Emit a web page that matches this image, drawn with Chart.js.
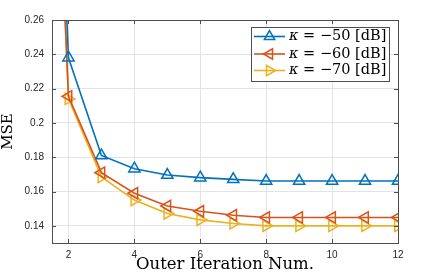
<!DOCTYPE html>
<html>
<head>
<meta charset="utf-8">
<script src="https://cdn.jsdelivr.net/npm/chart.js@4.4.0/dist/chart.umd.min.js"></script>
<style>
  html, body { margin: 0; padding: 0; background: #fff; }
</style>
</head>
<body>
<canvas id="mseChart" width="440" height="274"></canvas>
<script>
// values
var iterations = [1, 2, 3, 4, 5, 6, 7, 8, 9, 10, 11, 12];
var mse50 = [0.69, 0.238, 0.181, 0.1733, 0.1696, 0.1681, 0.1671, 0.1661, 0.1661, 0.1661, 0.1661, 0.1661];
var mse60 = [0.66, 0.2155, 0.171, 0.159, 0.1516, 0.1485, 0.1462, 0.1449, 0.1449, 0.1449, 0.1449, 0.1449];
var mse70 = [0.66, 0.214, 0.1685, 0.155, 0.1472, 0.1435, 0.1414, 0.140, 0.140, 0.140, 0.140, 0.140];
var seriesNames = ['\u221250 [dB]', '\u221260 [dB]', '\u221270 [dB]'];
var xTicks = [2, 4, 6, 8, 10, 12];
var yTicks = [0.14, 0.16, 0.18, 0.2, 0.22, 0.24, 0.26];
var yTickLabels = ['0.14', '0.16', '0.18', '0.2', '0.22', '0.24', '0.26'];

var colors = ['#0072BD', '#D95319', '#EDB120'];
var rotations = [0, -90, 90];

function pts(vals) {
	var out = [];
	for (var i in iterations) {
		out.push({x: iterations[i], y: vals[i]});
	}
	return out;
}

var allSeries = [mse50, mse60, mse70];
var datasets = [];
for (var k = 0; k < allSeries.length; k++) {
	datasets.push({
		label: seriesNames[k],
		data: pts(allSeries[k]),
		borderColor: colors[k],
		backgroundColor: 'rgba(0,0,0,0)',
		borderWidth: 1.6,
		pointStyle: 'triangle',
		pointRotation: rotations[k],
		pointRadius: 6.5,
		pointBorderWidth: 1.5,
		pointBorderColor: colors[k],
		pointBackgroundColor: 'rgba(0,0,0,0)',
		tension: 0
	});
}

// axes box with inward ticks, and the legend drawn inside the plot
var boxPlugin = {
	id: 'boxPlugin',
	afterDraw: function(chart) {
		var ctx = chart.ctx;
		var a = chart.chartArea;
		var xs = chart.scales.x, ys = chart.scales.y;
		ctx.save();
		ctx.strokeStyle = '#4d4d4d';
		ctx.lineWidth = 1;
		ctx.strokeRect(a.left + 0.5, a.top + 0.5, a.right - a.left, a.bottom - a.top);
		ctx.beginPath();
		xTicks.forEach(function(v) {
			var px = Math.round(xs.getPixelForValue(v)) + 0.5;
			ctx.moveTo(px, a.bottom); ctx.lineTo(px, a.bottom - 4);
			ctx.moveTo(px, a.top); ctx.lineTo(px, a.top + 4);
		});
		yTicks.forEach(function(v) {
			var py = Math.round(ys.getPixelForValue(v)) + 0.5;
			ctx.moveTo(a.left, py); ctx.lineTo(a.left + 4, py);
			ctx.moveTo(a.right, py); ctx.lineTo(a.right - 4, py);
		});
		ctx.stroke();

		// legend
		var lx = 251, ly = 27, lw = 138, lh = 54;
		ctx.fillStyle = '#fff';
		ctx.fillRect(lx, ly, lw, lh);
		ctx.strokeStyle = '#4d4d4d';
		ctx.strokeRect(lx + 0.5, ly + 0.5, lw, lh);
		var rows = [36.5, 54, 70.5];
		for (var k = 0; k < datasets.length; k++) {
			var cy = rows[k];
			ctx.strokeStyle = colors[k];
			ctx.lineWidth = 1.6;
			ctx.beginPath();
			ctx.moveTo(254, cy); ctx.lineTo(285, cy);
			ctx.stroke();
			ctx.lineWidth = 1.5;
			ctx.fillStyle = 'rgba(0,0,0,0)';
			Chart.helpers.drawPoint(ctx, {pointStyle: 'triangle', rotation: rotations[k], radius: 6, borderWidth: 1.5}, 269.5, cy);
			ctx.fillStyle = '#000';
			ctx.textBaseline = 'middle';
			ctx.textAlign = 'left';
			ctx.font = 'italic 14.5px "DejaVu Serif"';
			ctx.fillText('\u03ba', 289, cy);
			var w = ctx.measureText('\u03ba').width;
			ctx.font = '14.5px "DejaVu Serif"';
			ctx.fillText(' = ' + seriesNames[k], 289 + w, cy);
		}
		ctx.restore();
	}
};

var ctx = document.getElementById('mseChart');
var mseChart = new Chart(ctx, {
	type: 'line',
	data: { datasets: datasets },
	options: {
		responsive: false,
		animation: false,
		devicePixelRatio: 1,
		layout: { padding: { top: 20, right: 42, left: 0, bottom: 0 } },
		plugins: { legend: { display: false }, tooltip: { enabled: false } },
		scales: {
			x: {
				type: 'linear',
				min: 1.5,
				max: 12,
				afterBuildTicks: function(s) { s.ticks = xTicks.map(function(v) { return {value: v}; }); },
				afterFit: function(s) { s.height = 31; },
				grid: { color: '#e3e3e3', drawTicks: false },
				border: { display: false },
				ticks: { padding: 6, color: '#262626', font: { family: 'Liberation Sans', size: 10 }, maxRotation: 0 },
				title: { display: true, text: 'Outer Iteration Num.', color: '#000', padding: { top: 0, bottom: -1 },
					font: { family: 'DejaVu Serif', size: 16.5 } }
			},
			y: {
				min: 0.13,
				max: 0.26,
				afterBuildTicks: function(s) { s.ticks = yTicks.map(function(v) { return {value: v}; }); },
				afterFit: function(s) { s.width = 52; },
				grid: { color: '#e3e3e3', drawTicks: false },
				border: { display: false },
				ticks: { padding: 8, color: '#262626', font: { family: 'Liberation Sans', size: 10 },
					callback: function(v, i) { return yTickLabels[i]; } },
				title: { display: true, text: 'MSE', color: '#000', padding: { top: -1, bottom: 0 },
					font: { family: 'DejaVu Serif', size: 15 } }
			}
		}
	},
	plugins: [boxPlugin]
});
</script>
</body>
</html>
